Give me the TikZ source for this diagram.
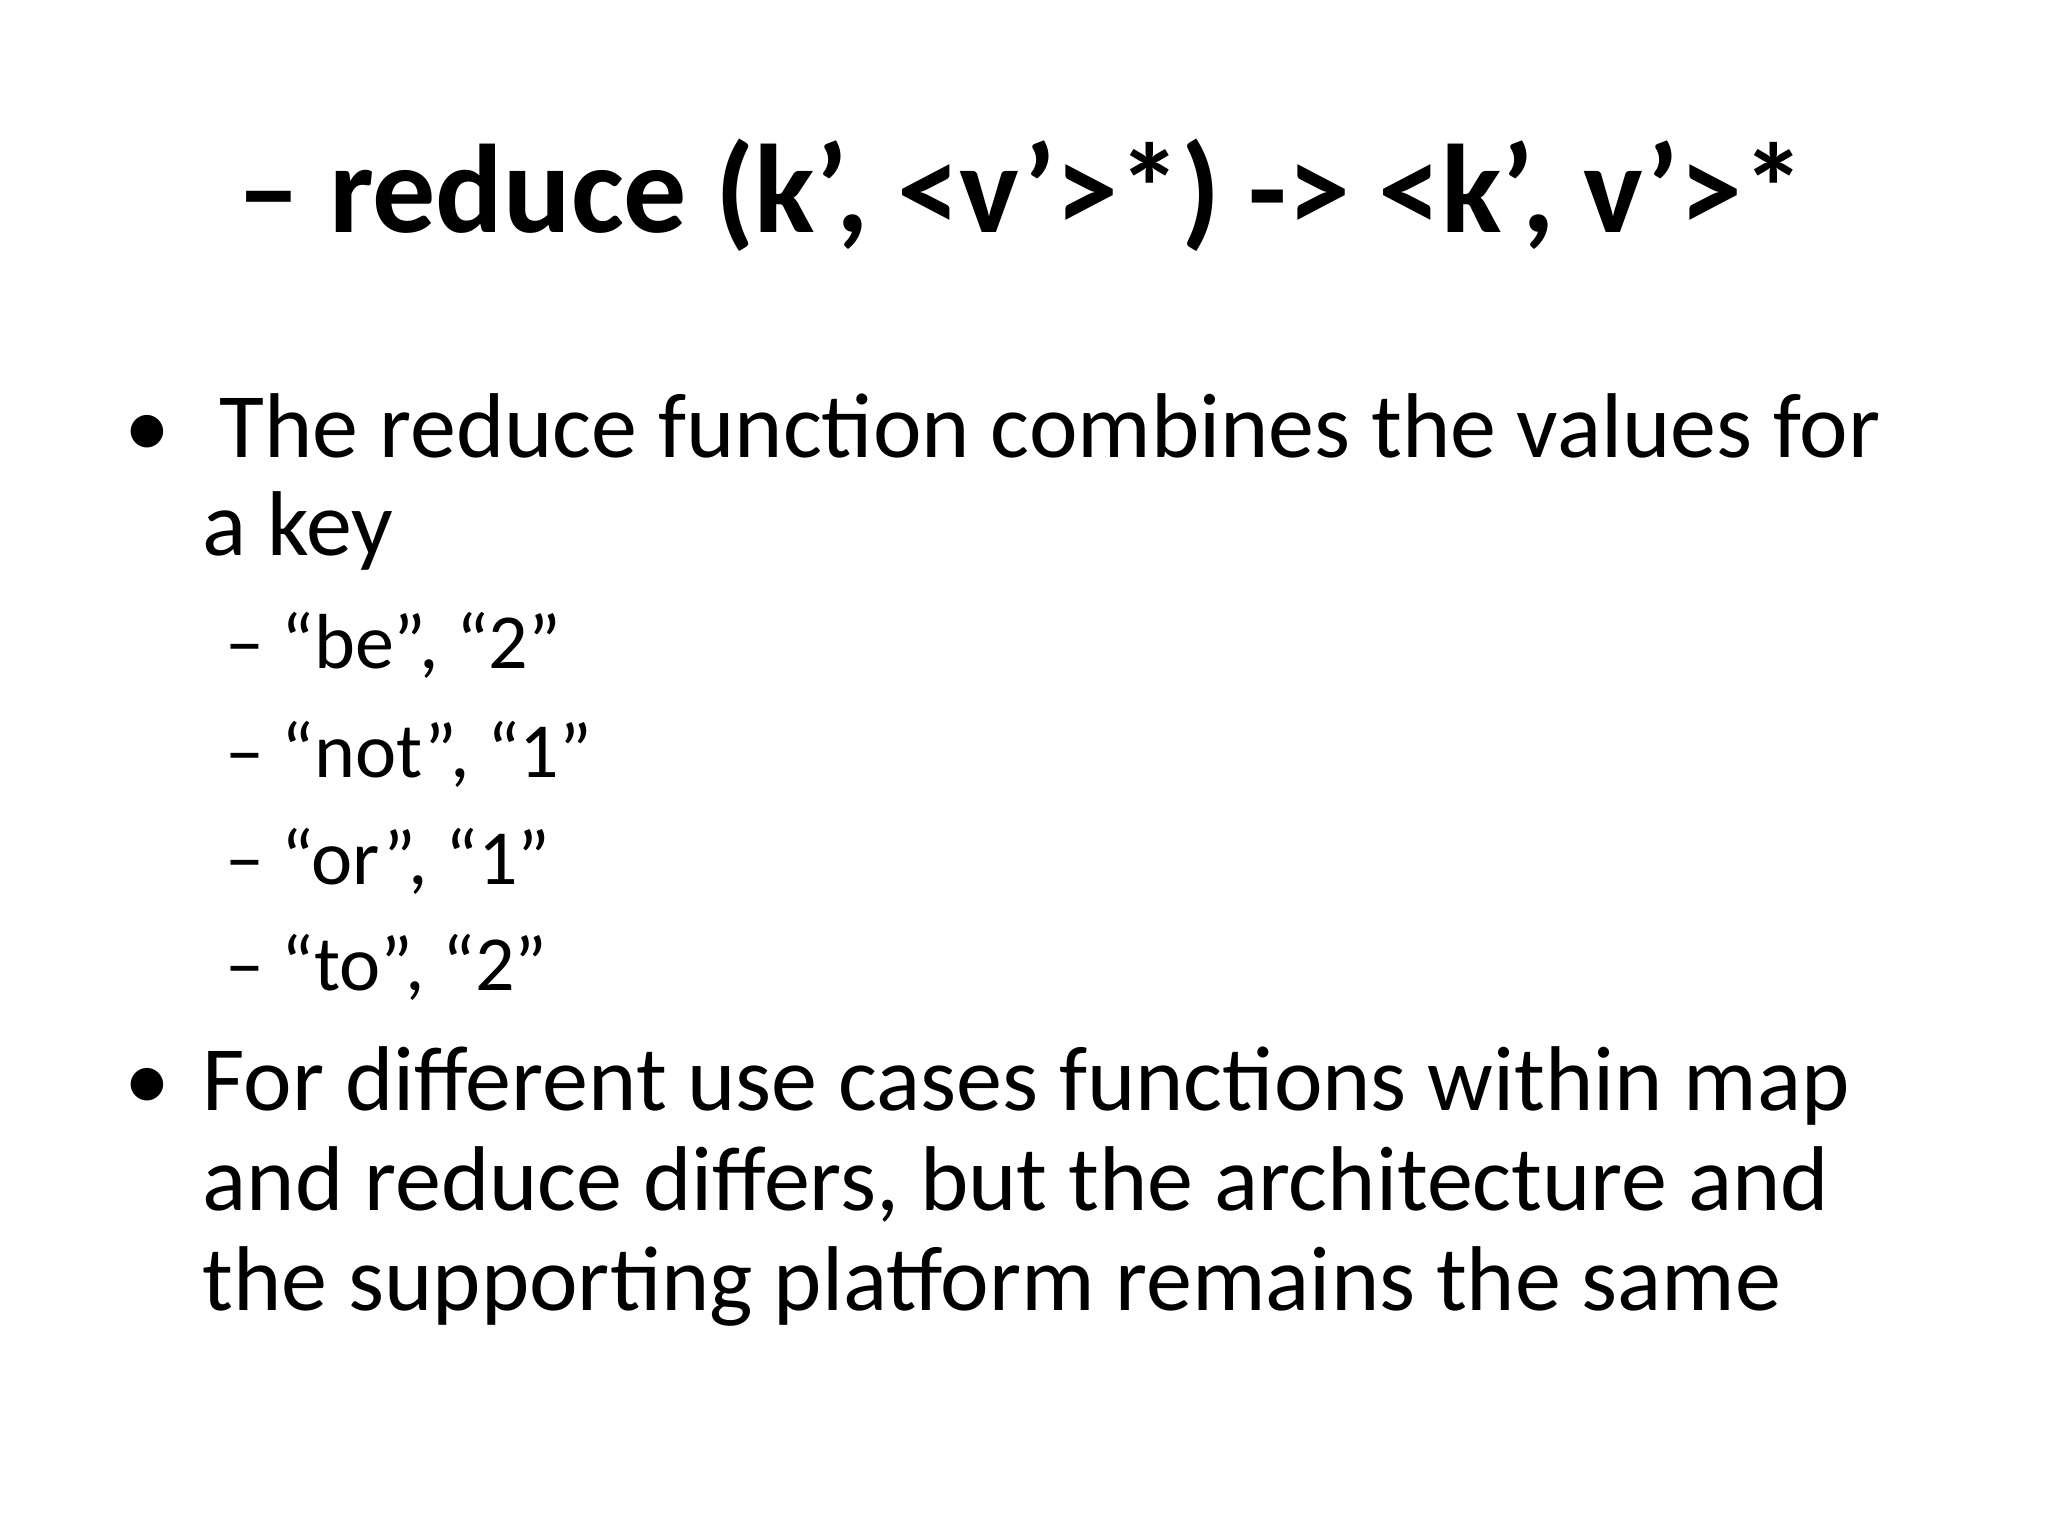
\documentclass[tikz,border=0pt]{standalone}
\usepackage{fontspec}
\setmainfont{Carlito}
\begin{document}
\begin{tikzpicture}[x=0.653pt,y=-0.653pt,
  t/.style={anchor=base west,inner sep=0pt,font=\fontsize{46}{50}\selectfont},
  s/.style={anchor=base west,inner sep=0pt,font=\fontsize{39}{44}\selectfont}]
\useasboundingbox[fill=white] (0,0) rectangle (1568,1176);
\node[anchor=base,inner sep=0pt,font=\fontsize{63}{70}\selectfont\bfseries] (title) at (782,178) {– reduce (k', <v'>*) -> <k', v'>*};
\node[t] (b1) at (95,350) {•};
\node[t] (l1) at (168,350) {The reduce function combines the values for};
\node[t] (l2) at (155,425) {a key};
\node[s] (s1) at (172,512) {– “be”, “2”};
\node[s] (s2) at (172,595) {– “not”, “1”};
\node[s] (s3) at (172,677) {– “or”, “1”};
\node[s] (s4) at (172,758) {– “to”, “2”};
\node[t] (b2) at (95,850) {•};
\node[t] (m1) at (155,850) {For different use cases functions within map};
\node[t] (m2) at (155,927) {and reduce differs, but the architecture and};
\node[t] (m3) at (155,1003) {the supporting platform remains the same};
\end{tikzpicture}
\end{document}
